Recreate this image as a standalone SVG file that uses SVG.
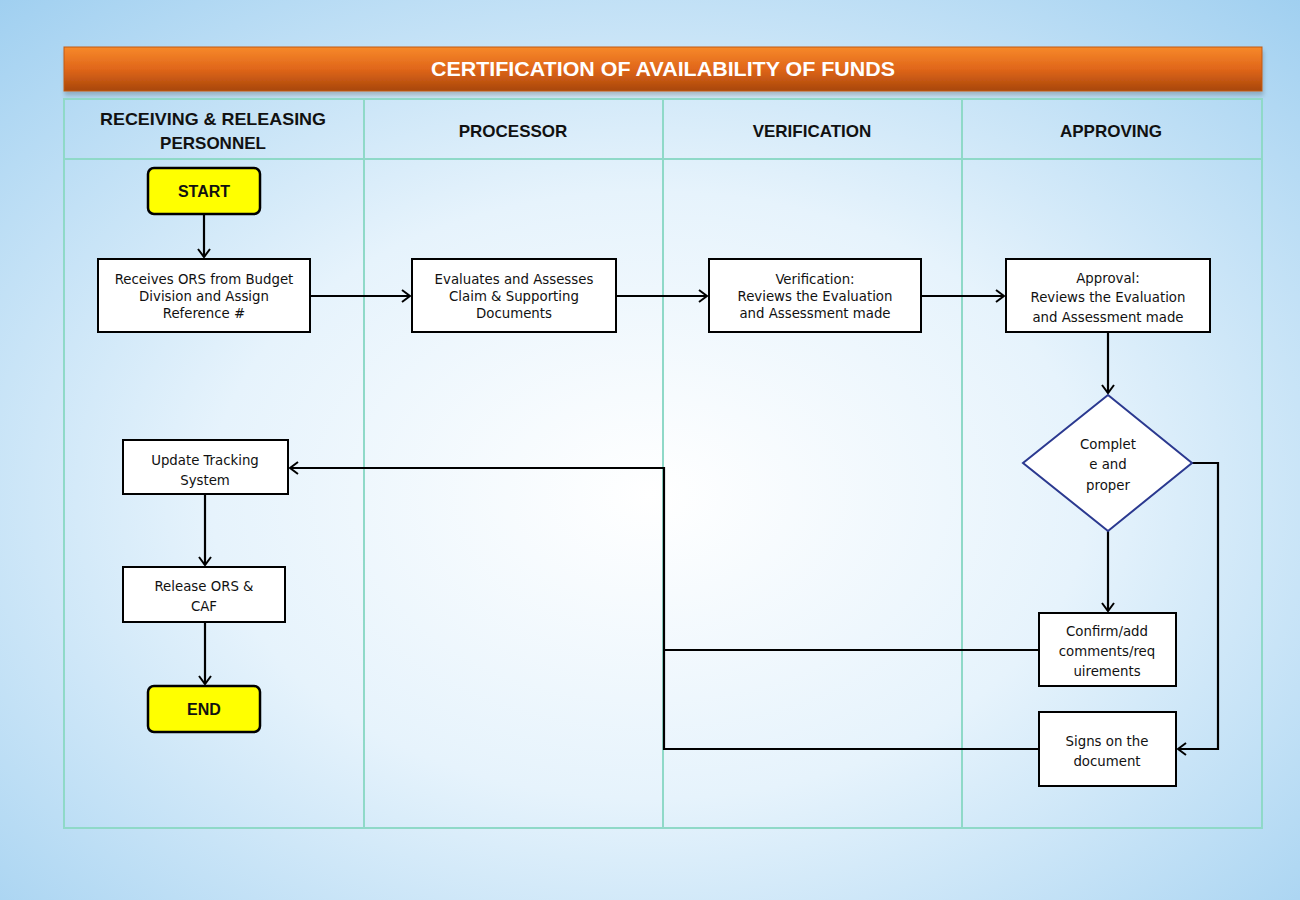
<svg xmlns="http://www.w3.org/2000/svg" width="1300" height="900" viewBox="0 0 1300 900">
<defs>
<radialGradient id="bg" cx="0.5" cy="0.55" r="0.75">
<stop offset="0" stop-color="#ffffff"/>
<stop offset="0.45" stop-color="#e6f3fc"/>
<stop offset="1" stop-color="#9fcff0"/>
</radialGradient>
<linearGradient id="title" x1="0" y1="0" x2="0" y2="1">
<stop offset="0" stop-color="#f7892a"/>
<stop offset="0.5" stop-color="#e0661a"/>
<stop offset="1" stop-color="#a8470a"/>
</linearGradient>
<marker id="arr" markerWidth="14" markerHeight="14" refX="11" refY="7" orient="auto" markerUnits="userSpaceOnUse">
<path d="M3,1 L11,7 L3,13" fill="none" stroke="#000" stroke-width="2"/>
</marker>
<filter id="sh" x="-10%" y="-10%" width="130%" height="140%">
<feDropShadow dx="1" dy="4" stdDeviation="2" flood-color="#000" flood-opacity="0.2"/>
</filter>
</defs>
<style>
.lane{fill:none;stroke:#8fd9c8;stroke-width:2}
.box{fill:#fff;stroke:#000;stroke-width:2}
.term{fill:#ffff00;stroke:#000;stroke-width:2.5}
.t{font-family:"DejaVu Sans Condensed","Liberation Sans",sans-serif;font-size:14.8px;fill:#111;text-anchor:middle}
.s{font-family:"Liberation Sans",sans-serif;font-size:16px;font-weight:bold;fill:#111;text-anchor:middle}
.h{font-family:"Liberation Sans",sans-serif;font-weight:bold;font-size:17px;fill:#111;text-anchor:middle}
.c{fill:none;stroke:#000;stroke-width:2.2}
</style>
<rect width="1300" height="900" fill="url(#bg)"/>
<g id="title-bar">
<rect x="64" y="47" width="1198" height="44" fill="url(#title)" stroke="#c25a10" stroke-width="1" filter="url(#sh)"/>
<text x="663" y="76" font-family="Liberation Sans, sans-serif" font-weight="bold" font-size="21" fill="#fff" text-anchor="middle" textLength="464" lengthAdjust="spacingAndGlyphs">CERTIFICATION OF AVAILABILITY OF FUNDS</text>
</g>
<g id="lanes">
<rect class="lane" x="64" y="99" width="1198" height="729"/>
<line class="lane" x1="64" y1="159" x2="1262" y2="159"/>
<line class="lane" x1="364" y1="99" x2="364" y2="828"/>
<line class="lane" x1="663" y1="99" x2="663" y2="828"/>
<line class="lane" x1="962" y1="99" x2="962" y2="828"/>
<text class="h" x="213" y="125" textLength="226" lengthAdjust="spacingAndGlyphs">RECEIVING &amp; RELEASING</text>
<text class="h" x="213" y="149">PERSONNEL</text>
<text class="h" x="513" y="137">PROCESSOR</text>
<text class="h" x="812" y="137">VERIFICATION</text>
<text class="h" x="1111" y="137">APPROVING</text>
</g>
<g id="connectors">
<path class="c" d="M204,214 V257" marker-end="url(#arr)"/>
<path class="c" d="M310,296 H410" marker-end="url(#arr)"/>
<path class="c" d="M616,296 H707" marker-end="url(#arr)"/>
<path class="c" d="M921,296 H1004" marker-end="url(#arr)"/>
<path class="c" d="M1108,332 V393" marker-end="url(#arr)"/>
<path class="c" d="M1108,531 V611" marker-end="url(#arr)"/>
<path class="c" d="M1192,463 H1218 V749 H1178" marker-end="url(#arr)"/>
<path class="c" d="M1039,650 H664"/>
<path class="c" d="M1039,749 H664 V468 H290" marker-end="url(#arr)"/>
<path class="c" d="M205,494 V565" marker-end="url(#arr)"/>
<path class="c" d="M205,622 V684" marker-end="url(#arr)"/>
</g>
<g id="start">
<rect class="term" x="148" y="168" width="112" height="46" rx="6"/>
<text class="s" x="204" y="197">START</text>
</g>
<g id="receives">
<rect class="box" x="98" y="259" width="212" height="73"/>
<text class="t" x="204" y="284">Receives ORS from Budget</text>
<text class="t" x="204" y="301">Division  and Assign</text>
<text class="t" x="204" y="318">Reference #</text>
</g>
<g id="evaluates">
<rect class="box" x="412" y="259" width="204" height="73"/>
<text class="t" x="514" y="284">Evaluates  and Assesses</text>
<text class="t" x="514" y="301">Claim  &amp; Supporting</text>
<text class="t" x="514" y="318">Documents</text>
</g>
<g id="verification">
<rect class="box" x="709" y="259" width="212" height="73"/>
<text class="t" x="815" y="284">Verification:</text>
<text class="t" x="815" y="301">Reviews  the Evaluation</text>
<text class="t" x="815" y="318">and Assessment made</text>
</g>
<g id="approval">
<rect class="box" x="1006" y="259" width="204" height="73"/>
<text class="t" x="1108" y="283">Approval:</text>
<text class="t" x="1108" y="302">Reviews  the  Evaluation</text>
<text class="t" x="1108" y="322">and  Assessment made</text>
</g>
<g id="decision">
<polygon points="1108,395 1192,463 1108,531 1023,463" fill="#fff" stroke="#2b3990" stroke-width="2"/>
<text class="t" x="1108" y="449">Complet</text>
<text class="t" x="1108" y="469">e and</text>
<text class="t" x="1108" y="490">proper</text>
</g>
<g id="confirm">
<rect class="box" x="1039" y="613" width="137" height="73"/>
<text class="t" x="1107" y="636">Confirm/add</text>
<text class="t" x="1107" y="656">comments/req</text>
<text class="t" x="1107" y="676">uirements</text>
</g>
<g id="signs">
<rect class="box" x="1039" y="712" width="137" height="74"/>
<text class="t" x="1107" y="746">Signs on the</text>
<text class="t" x="1107" y="766">document</text>
</g>
<g id="update">
<rect class="box" x="123" y="440" width="165" height="54"/>
<text class="t" x="205" y="465">Update  Tracking</text>
<text class="t" x="205" y="485">System</text>
</g>
<g id="release">
<rect class="box" x="123" y="567" width="162" height="55"/>
<text class="t" x="204" y="591">Release ORS &amp;</text>
<text class="t" x="204" y="611">CAF</text>
</g>
<g id="end">
<rect class="term" x="148" y="686" width="112" height="46" rx="6"/>
<text class="s" x="204" y="715">END</text>
</g>
</svg>
